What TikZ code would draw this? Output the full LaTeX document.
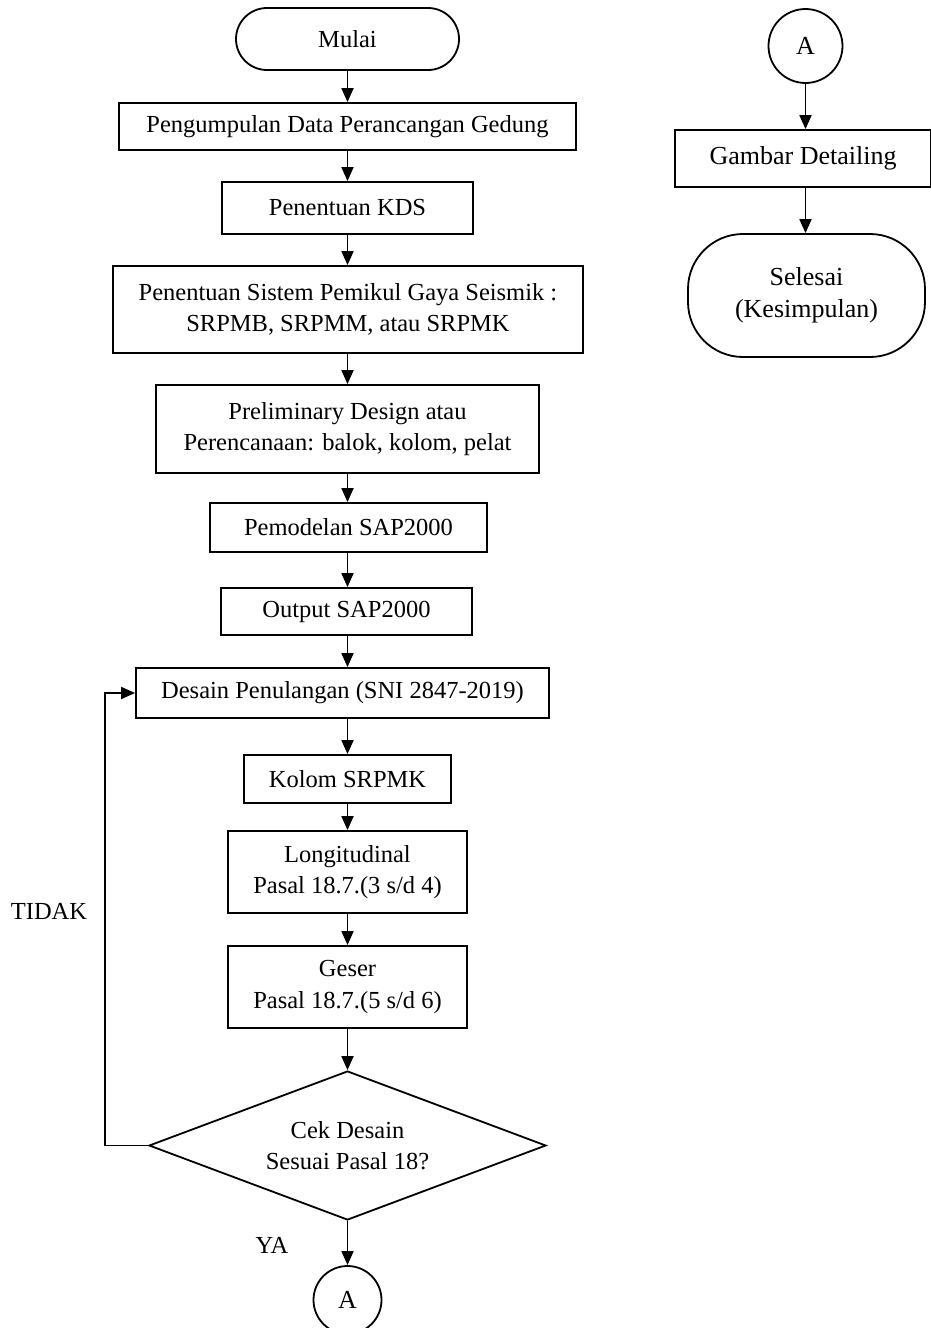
\documentclass[tikz,border=0pt]{standalone}
\usepackage{fontspec}
\setmainfont{Liberation Serif}
\usetikzlibrary{arrows.meta,shapes.geometric}
\begin{document}
\begin{tikzpicture}[x=1pt,y=-1pt,
  line width=1.8pt,
  lft/.style={font=\fontsize{24.5}{31.5}\selectfont},
  rgt/.style={font=\fontsize{26}{32}\selectfont},
  box/.style={draw, rectangle, inner sep=0pt, align=center, lft},
  term/.style={draw, rectangle, rounded corners=31pt, inner sep=0pt, align=center, lft},
  conn/.style={draw, circle, inner sep=0pt, rgt},
  dec/.style={draw, diamond, inner sep=0pt, aspect=2.68, align=center, lft},
  arr/.style={-{Triangle[length=14pt,width=12pt]}},
  lbl/.style={inner sep=0pt, lft}]
\useasboundingbox (0,0) rectangle (930,1328);
% left column
\node[term, minimum width=223pt, minimum height=62pt] (mulai) at (347.5,39) {Mulai};
\node[box, minimum width=457pt, minimum height=47pt] (b1) at (347.5,126.5) {Pengumpulan Data Perancangan Gedung};
\node[box, minimum width=251pt, minimum height=52pt] (b2) at (347.5,208) {Penentuan KDS};
\node[box, minimum width=470pt, minimum height=87pt] (b3) at (348,309.5) {Penentuan Sistem Pemikul Gaya Seismik :\\SRPMB, SRPMM, atau SRPMK};
\node[box, minimum width=383pt, minimum height=88pt] (b4) at (347.5,429) {Preliminary Design atau\\Perencanaan: balok, kolom, pelat};
\node[box, minimum width=277pt, minimum height=49pt] (b5) at (348.5,527.5) {Pemodelan SAP2000};
\node[box, minimum width=251pt, minimum height=47pt] (b6) at (346.5,611.5) {Output SAP2000};
\node[box, minimum width=413pt, minimum height=50pt] (b7) at (342.5,693) {Desain Penulangan (SNI 2847-2019)};
\node[box, minimum width=207pt, minimum height=48pt] (b8) at (347.5,779) {Kolom SRPMK};
\node[box, minimum width=239pt, minimum height=82pt] (b9) at (347.5,872) {Longitudinal\\Pasal 18.7.(3 s/d 4)};
\node[box, minimum width=239pt, minimum height=82pt] (b10) at (347.5,987) {Geser\\Pasal 18.7.(5 s/d 6)};
\node[dec, minimum width=397pt, minimum height=149pt] (cek) at (347.5,1145.5) {Cek Desain\\Sesuai Pasal 18?};
\node[conn, minimum size=68pt] (a1) at (347.5,1300) {A};
\coordinate (lp1) at (105,1145.5);
\coordinate (lp2) at (105,693);
\node[lbl] (tidak) at (49,911) {TIDAK};
\node[lbl] (ya) at (272,1245) {YA};
% right column
\node[conn, minimum size=74pt] (a2) at (805.5,46) {A};
\node[draw, rectangle, inner sep=0pt, rgt, minimum width=256pt, minimum height=57pt] (gd) at (803,158.5) {Gambar Detailing};
\node[draw, rectangle, rounded corners=55pt, inner sep=0pt, align=center, rgt, minimum width=237pt, minimum height=123pt] (sel) at (806.5,295.5) {Selesai\\(Kesimpulan)};
% connectors
\draw[arr] (mulai.south) -- (mulai.south |- b1.north);
\draw[arr] (mulai.south |- b1.south) -- (mulai.south |- b2.north);
\draw[arr] (mulai.south |- b2.south) -- (mulai.south |- b3.north);
\draw[arr] (mulai.south |- b3.south) -- (mulai.south |- b4.north);
\draw[arr] (mulai.south |- b4.south) -- (mulai.south |- b5.north);
\draw[arr] (mulai.south |- b5.south) -- (mulai.south |- b6.north);
\draw[arr] (mulai.south |- b6.south) -- (mulai.south |- b7.north);
\draw[arr] (mulai.south |- b7.south) -- (b8.north);
\draw[arr] (b8) -- (b9);
\draw[arr] (b9) -- (b10);
\draw[arr] (b10) -- (cek);
\draw[arr] (cek.south) -- (a1);
\draw[arr] (cek.west) -- (lp1) -- (lp2) -- (b7.west);
\draw[arr] (a2) -- (a2 |- gd.north);
\draw[arr] (a2 |- gd.south) -- (a2 |- sel.north);
\end{tikzpicture}
\end{document}
